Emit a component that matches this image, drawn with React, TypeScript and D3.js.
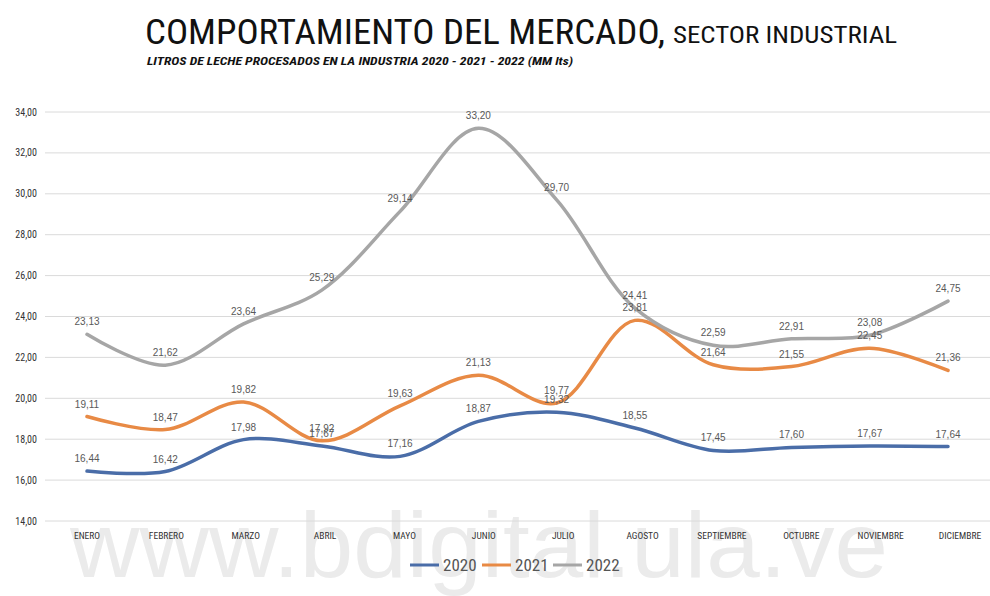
import React from "react";
import * as d3 from "d3";

const months = ["ENERO","FEBRERO","MARZO","ABRIL","MAYO","JUNIO","JULIO","AGOSTO","SEPTIEMBRE","OCTUBRE","NOVIEMBRE","DICIEMBRE"];
const v2020 = [16.44,16.42,17.98,17.67,17.16,18.87,19.32,18.55,17.45,17.60,17.67,17.64];
const v2021 = [19.11,18.47,19.82,17.92,19.63,21.13,19.77,23.81,21.64,21.55,22.45,21.36];
const v2022 = [23.13,21.62,23.64,25.29,29.14,33.20,29.70,24.41,22.59,22.91,23.08,24.75];
const yTicks = [14,16,18,20,22,24,26,28,30,32,34];
const seriesNames = ["2020","2021","2022"];
const seriesColors = ["#4A6DA8","#E88A45","#A6A6A6"];

const W = 990, H = 596;
const fmt = (v: number) => d3.format(".2f")(v).replace(".", ",");
const narrow = "'Liberation Sans Narrow', 'Arial Narrow', 'Roboto Condensed', sans-serif";

export default function App() {
  const x = d3.scalePoint<string>().domain(months).range([87, 948]);
  const xLab = d3.scalePoint<string>().domain(months).range([87, 960]);
  const y = d3.scaleLinear().domain([14, 34]).range([521, 112]);
  const line = d3.line<number>()
    .x((_, i) => x(months[i]) as number)
    .y((d) => y(d))
    .curve(d3.curveCatmullRom.alpha(0.5));
  const all = [v2020, v2021, v2022];

  return (
    <svg width={W} height={H} style={{ position: "absolute", left: 0, top: 0, background: "#fff" }}>
      <rect width={W} height={H} fill="#fff" />
      {/* watermark */}
      <text x={70} y={577} fontFamily="'Liberation Sans', Arial, sans-serif" fontSize={93}
        fill="#EBEBEB" textLength={818} lengthAdjust="spacingAndGlyphs">www.bdigital.ula.ve</text>
      {/* title */}
      <text x={145} y={44} fontFamily={narrow} fontSize={35} fill="#111"
        textLength={520} lengthAdjust="spacingAndGlyphs">COMPORTAMIENTO DEL MERCADO,</text>
      <text x={673} y={43} fontFamily={narrow} fontSize={23} fill="#111"
        textLength={224} lengthAdjust="spacingAndGlyphs">SECTOR INDUSTRIAL</text>
      <text x={147} y={65} fontFamily={narrow} fontSize={10.5} fontWeight="bold" fontStyle="italic" fill="#111"
        textLength={426} lengthAdjust="spacingAndGlyphs">LITROS DE LECHE PROCESADOS EN LA INDUSTRIA  2020 - 2021 - 2022  (MM lts)</text>
      {/* grid */}
      {yTicks.map((t) => (
        <g key={t}>
          <line x1={45} x2={990} y1={y(t)} y2={y(t)} stroke="#DADADA" strokeWidth={1} />
          <text x={37} y={y(t) + 3.5} textAnchor="end" fontFamily={narrow} fontSize={10} fill="#333">{fmt(t)}</text>
        </g>
      ))}
      {/* category labels */}
      {months.map((m) => (
        <text key={m} x={xLab(m)} y={539} textAnchor="middle" fontFamily={narrow} fontSize={9.5} fill="#333">{m}</text>
      ))}
      {/* lines */}
      {all.map((vals, si) => (
        <path key={si} d={line(vals) || ""} fill="none" stroke={seriesColors[si]} strokeWidth={3.5} strokeLinecap="round" />
      ))}
      {/* data labels */}
      {all.map((vals, si) => vals.map((v, i) => (
        <text key={si + "-" + i} x={x(months[i])} y={y(v) - 9} textAnchor="middle"
          fontFamily="'Liberation Sans', Arial, sans-serif" fontSize={10} fill="#595959">{fmt(v)}</text>
      )))}
      {/* legend */}
      {seriesNames.map((n, i) => {
        const lx = [410, 482, 553][i];
        return (
          <g key={n}>
            <line x1={lx} x2={lx + 29} y1={565} y2={565} stroke={seriesColors[i]} strokeWidth={3} />
            <text x={lx + 33} y={571} fontFamily={narrow} fontSize={17} fill="#555">{n}</text>
          </g>
        );
      })}
    </svg>
  );
}
